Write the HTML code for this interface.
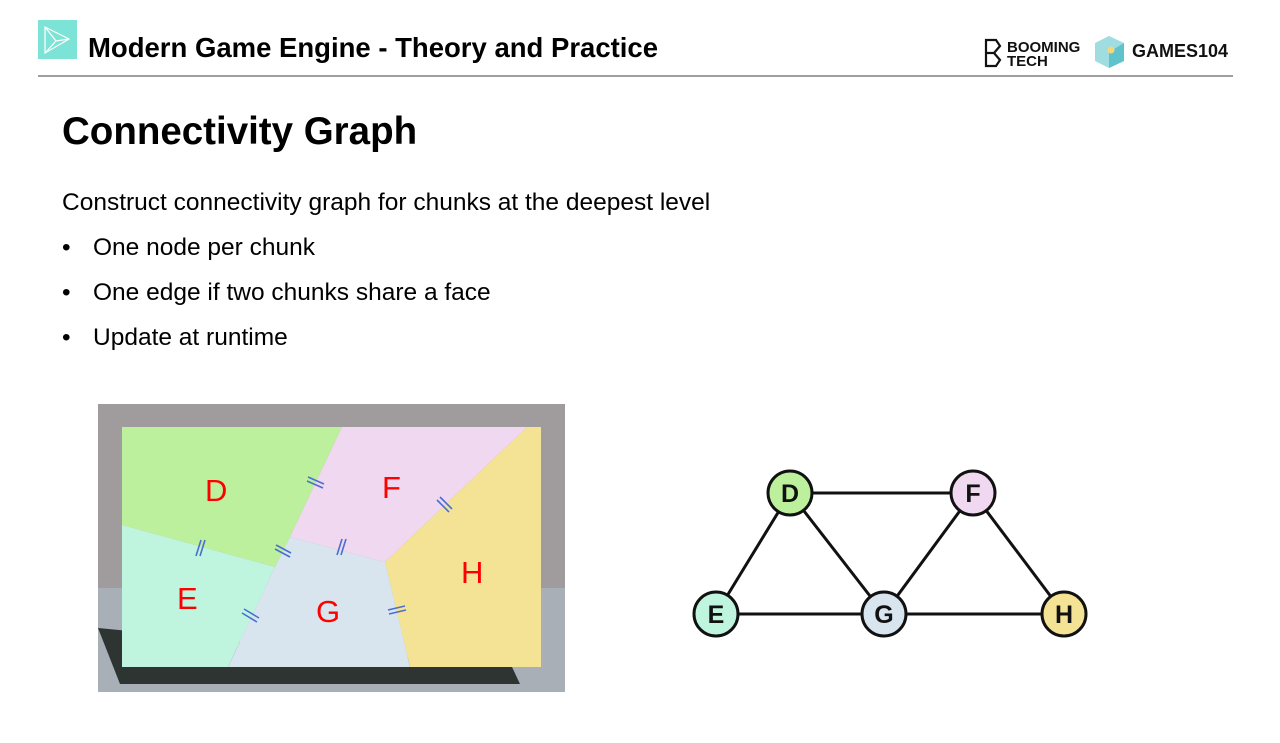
<!DOCTYPE html>
<html><head><meta charset="utf-8"><style>
html,body{margin:0;padding:0;background:#fff;}
body{width:1280px;height:743px;overflow:hidden;position:relative;font-family:"Liberation Sans",Arial,sans-serif;}
</style></head><body>
<svg width="1280" height="743" viewBox="0 0 1280 743" xmlns="http://www.w3.org/2000/svg" style="position:absolute;left:0;top:0">
<rect x="38" y="20" width="39" height="39" fill="#7de3d6"/>
<path d="M45 27 L69 39 L45 53 Z M45 27 L56 41 L45 53 M56 41 L69 39" fill="none" stroke="#fff" stroke-width="1.2"/>
<text x="88" y="57" font-family="Liberation Sans" font-weight="bold" font-size="27.5" fill="#000">Modern Game Engine - Theory and Practice</text>
<line x1="38" y1="76" x2="1233" y2="76" stroke="#666" stroke-width="1.2"/>
<path d="M986 40 L996 40 L1000 46 L994 53 L1000 60 L996 66 L986 66 Z M986 53 L994 53" fill="none" stroke="#111" stroke-width="2.2"/>
<text x="1007" y="52" font-family="Liberation Sans" font-size="15" font-weight="bold" fill="#111">BOOMING</text>
<text x="1007" y="66" font-family="Liberation Sans" font-size="15" font-weight="bold" fill="#111">TECH</text>
<path d="M1109 36 L1124 43 L1124 61 L1109 68 L1095 61 L1095 43 Z" fill="#9fdde0"/>
<path d="M1109 52 L1124 43 L1124 61 L1109 68 Z" fill="#5fc3cc"/>
<circle cx="1111" cy="50" r="3.5" fill="#f3d77a"/>
<text x="1132" y="57" font-family="Liberation Sans" font-size="18" font-weight="bold" fill="#111">GAMES104</text>

<text x="62" y="144" font-family="Liberation Sans" font-weight="bold" font-size="38.5" fill="#000">Connectivity Graph</text>
<text x="62" y="210" font-size="24.5" fill="#000">Construct connectivity graph for chunks at the deepest level</text>
<text x="62" y="255" font-size="24.5" fill="#000">•</text><text x="93" y="255" font-size="24.5" fill="#000">One node per chunk</text>
<text x="62" y="300" font-size="24.5" fill="#000">•</text><text x="93" y="300" font-size="24.5" fill="#000">One edge if two chunks share a face</text>
<text x="62" y="345" font-size="24.5" fill="#000">•</text><text x="93" y="345" font-size="24.5" fill="#000">Update at runtime</text>

<rect x="98" y="404" width="467" height="288" fill="#a09c9e"/>
<rect x="98" y="588" width="467" height="104" fill="#a9afb7"/>
<path d="M98 628 L512 667 L520 684 L120 684 Z" fill="#2d3432"/>
<polygon points="122,427 342,427 290,537 275,567 122,525" fill="#bdf09c"/>
<polygon points="342,427 527,427 385,562 290,537" fill="#f1d8f1"/>
<polygon points="527,427 541,427 541,667 410,667 385,562" fill="#f4e394"/>
<polygon points="122,525 275,567 228,667 122,667" fill="#bff5df"/>
<polygon points="275,567 290,537 385,562 410,667 228,667" fill="#d8e5ee"/>
<g font-family="Liberation Sans" font-size="31" fill="#ff0000">
<text x="205" y="501">D</text><text x="382" y="498">F</text><text x="461" y="583">H</text>
<text x="177" y="609">E</text><text x="316" y="622">G</text></g>
<g stroke="#4a6fd0" stroke-width="1.6">
<line x1="308" y1="477" x2="324" y2="484"/><line x1="307" y1="481" x2="323" y2="488"/>
<line x1="440" y1="497" x2="452" y2="509"/><line x1="437" y1="500" x2="449" y2="512"/>
<line x1="201" y1="540" x2="196" y2="556"/><line x1="205" y1="540" x2="200" y2="556"/>
<line x1="276" y1="545" x2="291" y2="553"/><line x1="275" y1="549" x2="290" y2="557"/>
<line x1="342" y1="539" x2="337" y2="555"/><line x1="346" y1="539" x2="341" y2="555"/>
<line x1="244" y1="609" x2="259" y2="618"/><line x1="242" y1="613" x2="257" y2="622"/>
<line x1="388" y1="610" x2="405" y2="606"/><line x1="389" y1="614" x2="406" y2="610"/>
</g>

<g stroke="#111" stroke-width="3">
<line x1="790" y1="493" x2="973" y2="493"/>
<line x1="790" y1="493" x2="716" y2="614"/>
<line x1="790" y1="493" x2="884" y2="614"/>
<line x1="973" y1="493" x2="884" y2="614"/>
<line x1="973" y1="493" x2="1064" y2="614"/>
<line x1="716" y1="614" x2="1064" y2="614"/>
</g>
<g stroke="#111" stroke-width="3">
<circle cx="790" cy="493" r="22" fill="#bdf09c"/>
<circle cx="973" cy="493" r="22" fill="#f1d8f1"/>
<circle cx="716" cy="614" r="22" fill="#bff5df"/>
<circle cx="884" cy="614" r="22" fill="#d8e5ee"/>
<circle cx="1064" cy="614" r="22" fill="#f4e394"/>
</g>
<g font-family="Liberation Sans" font-weight="bold" font-size="25" fill="#111" text-anchor="middle">
<text x="790" y="502">D</text><text x="973" y="502">F</text><text x="716" y="623">E</text>
<text x="884" y="623">G</text><text x="1064" y="623">H</text></g>
</svg>
</body></html>
